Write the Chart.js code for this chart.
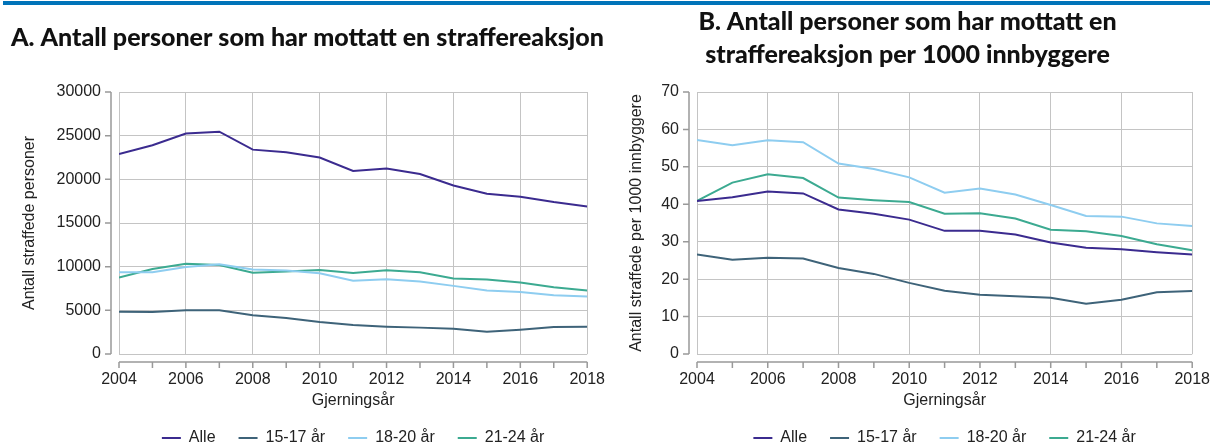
<!DOCTYPE html>
<html>
<head>
<meta charset="utf-8">
<script src="https://cdn.jsdelivr.net/npm/chart.js@4.4.1/dist/chart.umd.min.js"></script>
<style>
html, body { margin: 0; padding: 0; background: #fff; overflow: hidden; width: 1210px; height: 447px; }
.panel { position: absolute; top: 0; width: 605px; height: 456px; }
#pA { left: 0; }
#pB { left: 605px; }
.topbar { position: absolute; left: 3px; right: 0; top: 1px; height: 4px; background: #0073b9; z-index: 2; }
</style>
</head>
<body>
<div class="panel" id="pA"><canvas id="chartA" width="605" height="456"></canvas></div>
<div class="panel" id="pB"><canvas id="chartB" width="605" height="456"></canvas></div>
<div class="topbar"></div>
<script>
// data
var years = [2004, 2005, 2006, 2007, 2008, 2009, 2010, 2011, 2012, 2013, 2014, 2015, 2016, 2017, 2018];
var seriesNames = ['Alle', '15-17 år', '18-20 år', '21-24 år'];

// A: antall personer
var alleA  = [22900, 23900, 25250, 25450, 23400, 23100, 22500, 20950, 21250, 20600, 19300, 18350, 18000, 17400, 16900];
var a1517A = [4850, 4800, 5000, 5000, 4450, 4120, 3670, 3320, 3130, 3020, 2900, 2560, 2790, 3100, 3120];
var a1820A = [9350, 9350, 9970, 10270, 9670, 9550, 9250, 8400, 8560, 8300, 7800, 7260, 7100, 6730, 6570];
var a2124A = [8750, 9740, 10320, 10200, 9300, 9440, 9630, 9280, 9590, 9350, 8640, 8520, 8180, 7640, 7260];

// B: per 1000 innbyggere
var alleB  = [40.9, 41.9, 43.4, 42.9, 38.6, 37.5, 35.9, 32.9, 32.9, 31.9, 29.8, 28.4, 28.0, 27.2, 26.6];
var a1517B = [26.6, 25.2, 25.7, 25.5, 23.0, 21.4, 19.0, 16.9, 15.8, 15.4, 15.0, 13.4, 14.5, 16.5, 16.8];
var a1820B = [57.2, 55.8, 57.1, 56.6, 50.9, 49.4, 47.2, 43.1, 44.2, 42.6, 39.8, 36.9, 36.7, 34.9, 34.2];
var a2124B = [40.9, 45.8, 48.0, 47.0, 41.8, 41.1, 40.6, 37.5, 37.6, 36.2, 33.2, 32.8, 31.5, 29.3, 27.7];

var colors = ['#3b2b8f', '#3e6379', '#8ecdf0', '#3caa91'];

Chart.defaults.font.family = "'Liberation Sans', Arial, sans-serif";
Chart.defaults.font.size = 16;
Chart.defaults.color = '#222';

// axis lines set off from the plot area, with a tick for every year
var axisLines = {
    id: 'axisLines',
    afterDraw: function(chart) {
        var ctx = chart.ctx, a = chart.chartArea;
        var xs = chart.scales.x, ys = chart.scales.y;
        var ax = a.left - 8, ay = a.bottom + 8;
        ctx.save();
        ctx.strokeStyle = '#999';
        ctx.lineWidth = 1.5;
        ctx.beginPath();
        ctx.moveTo(ax, a.top);
        ctx.lineTo(ax, a.bottom);
        ys.ticks.forEach(function(t) {
            var p = ys.getPixelForValue(t.value);
            ctx.moveTo(ax - 6, p);
            ctx.lineTo(ax, p);
        });
        ctx.moveTo(a.left, ay);
        ctx.lineTo(a.right, ay);
        years.forEach(function(yr) {
            var p = xs.getPixelForValue(yr);
            ctx.moveTo(p, ay);
            ctx.lineTo(p, ay + 6);
        });
        ctx.stroke();
        ctx.restore();
    }
};

// center the legend under the plot instead of the whole canvas
var legendOverPlot = {
    id: 'legendOverPlot',
    afterLayout: function(chart) {
        var lg = chart.legend, a = chart.chartArea;
        lg.left = a.left;
        lg.right = a.right;
        lg.width = a.right - a.left;
    }
};

function makeChart(id, series, yMax, yStep, yTitle, cfg) {
    var datasets = series.map(function(vals, i) {
        return {
            label: seriesNames[i],
            data: vals.map(function(v, j) { return {x: years[j], y: v}; }),
            borderColor: colors[i],
            backgroundColor: colors[i],
            borderWidth: 2,
            pointRadius: 0,
            tension: 0
        };
    });
    return new Chart(document.getElementById(id), {
        type: 'line',
        data: {datasets: datasets},
        plugins: [axisLines, legendOverPlot],
        options: {
            responsive: false,
            animation: false,
            layout: {padding: {left: cfg.padLeft, right: 0, top: 0, bottom: 0}},
            plugins: {
                title: {
                    display: true,
                    text: cfg.title,
                    align: cfg.titleAlign,
                    color: '#111',
                    font: {family: "Lato, 'DejaVu Sans', sans-serif", weight: '900', size: 25, lineHeight: cfg.titleLH},
                    padding: cfg.titlePad
                },
                legend: {
                    position: 'bottom',
                    labels: {
                        usePointStyle: true,
                        pointStyle: 'line',
                        pointStyleWidth: 19,
                        padding: 23,
                        color: '#222',
                        font: {size: 16}
                    }
                },
                tooltip: {enabled: false}
            },
            scales: {
                x: {
                    type: 'linear',
                    min: 2004,
                    max: 2018,
                    border: {display: false},
                    // invisible tick marks push the labels down without widening the side padding
                    grid: {color: '#c4c4c4', borderDash: [1, 2], drawTicks: true, tickLength: 16, tickColor: 'rgba(0,0,0,0)', lineWidth: 1},
                    ticks: {stepSize: 2, padding: 0, callback: function(v) { return String(v); }},
                    title: {display: true, text: 'Gjerningsår', padding: {top: 0, bottom: -3.6}},
                    afterFit: function(s) { s.height = 53; }
                },
                y: {
                    min: 0,
                    max: yMax,
                    border: {display: false},
                    grid: {color: '#c4c4c4', borderDash: [1, 2], drawTicks: false, lineWidth: 1},
                    ticks: {stepSize: yStep, padding: 18, callback: function(v) { return String(v); }},
                    title: {display: true, text: yTitle, padding: {top: cfg.yTitlePad, bottom: 0}},
                    afterFit: function(s) { s.width = cfg.yWidth; }
                }
            }
        }
    });
}

makeChart('chartA', [alleA, a1517A, a1820A, a2124A], 30000, 5000, 'Antall straffede personer', {
    padLeft: 11, yWidth: 108, yTitlePad: 9.4,
    title: 'A. Antall personer som har mottatt en straffereaksjon',
    titleAlign: 'start', titleLH: 1.4, titlePad: {top: 20.5, bottom: 36.5}
});

makeChart('chartB', [alleB, a1517B, a1820B, a2124B], 70, 10, 'Antall straffede per 1000 innbyggere', {
    padLeft: 0, yWidth: 92, yTitlePad: 22.4,
    title: ['B. Antall personer som har mottatt en', 'straffereaksjon per 1000 innbyggere'],
    titleAlign: 'center', titleLH: 33 / 25, titlePad: {top: 5.5, bottom: 20.5}
});
</script>
</body>
</html>
